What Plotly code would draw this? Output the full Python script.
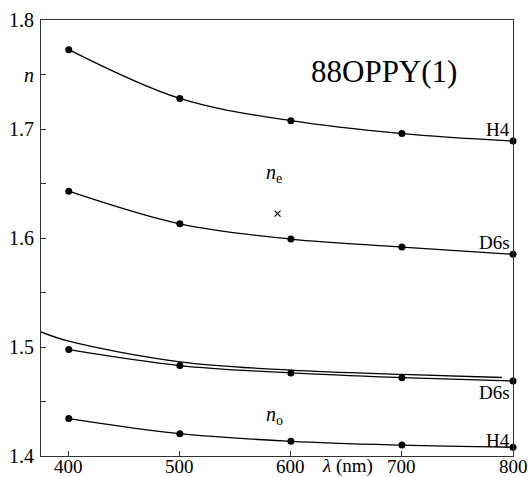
import plotly.graph_objects as go

wl = [400, 500, 600, 700, 800]
ne_H4 = [1.7728, 1.728, 1.7076, 1.6958, 1.689]
ne_D6s = [1.643, 1.613, 1.599, 1.5917, 1.585]
no_D6s = [1.4976, 1.483, 1.4762, 1.4719, 1.4688]
no_H4 = [1.4343, 1.4205, 1.4135, 1.41, 1.408]
extra_wl = [375, 400, 500, 600, 700, 790]
extra_n = [1.5138, 1.5053, 1.4864, 1.4788, 1.4748, 1.472]
cross_wl = [588]
cross_n = [1.6224]
y_tickvals = [1.4, 1.5, 1.6, 1.7, 1.75, 1.8]
y_ticktext = ["1.4", "1.5", "1.6", "1.7", "<i>n</i>", "1.8"]
x_ticktext = ["400", "500", "600", "700", "800"]

FONT = "Liberation Serif, Times New Roman, serif"
fig = go.Figure()
for ys in [ne_H4, ne_D6s, no_D6s, no_H4]:
    fig.add_trace(go.Scatter(x=wl, y=ys, mode="lines+markers",
                             line=dict(color="black", width=1.3, shape="spline", smoothing=1),
                             marker=dict(color="black", size=7),
                             cliponaxis=False, showlegend=False))
fig.add_trace(go.Scatter(x=extra_wl, y=extra_n, mode="lines",
                         line=dict(color="black", width=1.3, shape="spline", smoothing=1),
                         cliponaxis=False, showlegend=False))
fig.add_trace(go.Scatter(x=cross_wl, y=cross_n, mode="markers",
                         marker=dict(symbol="x-thin", color="black", size=6, line=dict(width=1.2, color="black")),
                         showlegend=False))

fig.update_layout(
    width=528, height=477,
    margin=dict(l=41, r=15, t=20, b=21),
    plot_bgcolor="white", paper_bgcolor="white",
    font=dict(family=FONT, size=20, color="black"),
    xaxis=dict(range=[375, 800], tickvals=wl, ticks="inside", ticklen=5, tickcolor="#333",
               showticklabels=False,
               showgrid=False, zeroline=False, showline=True, linecolor="#333", linewidth=1,
               mirror=True, automargin=False),
    yaxis=dict(range=[1.4, 1.8], tickvals=y_tickvals, ticktext=y_ticktext, ticks="inside", ticklen=5,
               tickcolor="#333",
               minor=dict(tick0=1.4, dtick=0.05, ticks="inside", ticklen=5, tickcolor="#333", showgrid=False),
               showgrid=False, zeroline=False, showline=True, linecolor="#333", linewidth=1,
               mirror=True, automargin=False, ticklabelstandoff=2,
               tickfont=dict(family=FONT, size=20, color="black")),
)

def ann(text, x, y, size=19, xanchor="center", xref="x", yref="y"):
    fig.add_annotation(text=text, x=x, y=y, xref=xref, yref=yref, showarrow=False,
                       xanchor=xanchor, yanchor="middle", font=dict(family=FONT, size=size, color="black"))

ann("88OPPY(1)", 683.7, 1.7523, size=31)
ann("H4", 799, 1.6994, xanchor="right")
ann("D6s", 799, 1.5963, xanchor="right")
ann("D6s", 799, 1.4587, xanchor="right")
ann("H4", 799, 1.4144, xanchor="right")
ann("<i>n</i><sub>e</sub>", 585, 1.659, size=20)
ann("<i>n</i><sub>o</sub>", 585, 1.437, size=20)
for v, t in zip(wl, x_ticktext):
    ann(t, v, -0.0235, xref="x", yref="paper", size=19)
ann("<i>λ</i> (nm)", 651.4, -0.0235, xref="x", yref="paper", size=19)

fig.write_html("out.html")
